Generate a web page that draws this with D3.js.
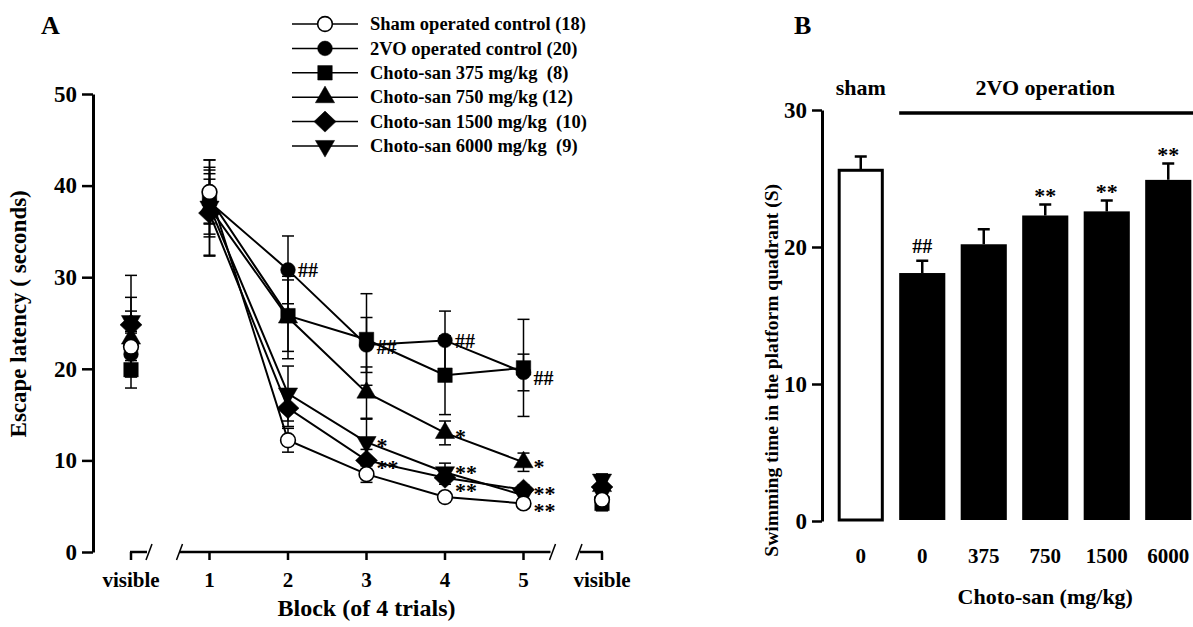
<!DOCTYPE html>
<html>
<head>
<meta charset="utf-8">
<script src="https://cdn.jsdelivr.net/npm/d3@7"></script>
<style>
  body { margin: 0; background: #fff; }
  svg { display: block; }
  text { font-family: "Liberation Serif", "Times New Roman", serif; font-weight: bold; fill: #000; }
</style>
</head>
<body>
<svg width="1193" height="627"></svg>
<script>
// ---- Panel A data ----
const blockKeys = ['visL', '1', '2', '3', '4', '5', 'visR'];
const blockLabels = ['visible', '1', '2', '3', '4', '5', 'visible'];
const yTicksA = [0, 10, 20, 30, 40, 50];

const seriesNames = [
    'Sham operated control (18)',
    '2VO operated control (20)',
    'Choto-san 375 mg/kg  (8)',
    'Choto-san 750 mg/kg (12)',
    'Choto-san 1500 mg/kg  (10)',
    'Choto-san 6000 mg/kg  (9)'
];
const seriesSymbols = ['circleOpen', 'circle', 'square', 'triangle', 'diamond', 'triangleDown'];

const shamMeans = [22.4, 39.3, 12.2, 8.5, 6.0, 5.3, 5.7];
const shamErr   = [1.5, 3.5, 1.3, 0.9, 0.5, 0.5, 0.6];
const vo2Means  = [21.6, 38.2, 30.8, 22.6, 23.1, 19.6, 6.8];
const vo2Err    = [2.5, 3.8, 3.7, 3.0, 3.2, 2.0, 1.0];
const cs375Means = [19.9, 38.6, 25.8, 23.2, 19.3, 20.1, 5.3];
const cs375Err   = [2.0, 2.7, 3.9, 5.0, 4.3, 5.3, 0.8];
const cs750Means = [23.3, 37.6, 25.6, 17.4, 13.0, 9.8, 7.2];
const cs750Err   = [3.0, 5.2, 4.5, 2.8, 1.3, 1.0, 1.0];
const cs1500Means = [24.8, 37.0, 15.7, 10.0, 8.1, 6.8, 7.1];
const cs1500Err   = [3.0, 4.7, 2.0, 1.2, 0.7, 0.5, 1.4];
const cs6000Means = [25.2, 37.7, 17.3, 12.0, 8.7, 6.2, 7.9];
const cs6000Err   = [5.0, 3.0, 3.0, 2.5, 1.0, 0.6, 0.6];

// significance marks: block, value where the mark sits, label
const sigKeysA   = ['2', '3', '4', '5', '3', '3', '4', '4', '4', '5', '5', '5'];
const sigValuesA = [30.8, 22.4, 23.1, 19.0, 12.3, 9.8, 13.2, 9.3, 7.3, 10.0, 7.0, 5.2];
const sigLabelsA = ['##', '##', '##', '##', '*', '**', '*', '**', '**', '*', '**', '**'];

// ---- Panel B data ----
const groupLabels = ['0', '0', '375', '750', '1500', '6000'];
const swimMeans = [25.6, 18.1, 20.2, 22.3, 22.6, 24.9];
const swimErr   = [1.0, 0.9, 1.1, 0.8, 0.8, 1.2];
const swimSig   = ['', '##', '', '**', '**', '**'];
const yTicksB = [0, 10, 20, 30];

const svg = d3.select('svg');

// ---- symbols ----
const diamondType = {
    draw(ctx, size) {
        const r = Math.sqrt(size / 2);
        ctx.moveTo(0, -r); ctx.lineTo(r * 1.05, 0); ctx.lineTo(0, r); ctx.lineTo(-r * 1.05, 0); ctx.closePath();
    }
};
const symbolType = { circleOpen: d3.symbolCircle, circle: d3.symbolCircle, square: d3.symbolSquare,
    triangle: d3.symbolTriangle, diamond: diamondType, triangleDown: d3.symbolTriangle };
const symbolSize = { circleOpen: 170, circle: 170, square: 210, triangle: 160, diamond: 220, triangleDown: 160 };

const drawSymbol = (g, s, x, y) => {
    g.append('path')
        .attr('d', d3.symbol().type(symbolType[s]).size(symbolSize[s])())
        .attr('transform', `translate(${x},${y})` + (s === 'triangleDown' ? ' rotate(180)' : ''))
        .attr('fill', s === 'circleOpen' ? '#fff' : '#000')
        .attr('stroke', '#000')
        .attr('stroke-width', s === 'circleOpen' ? 1.6 : 0.5);
};

// ================= Panel A =================
const xA = d3.scalePoint().domain(blockKeys).range([131, 602]);
const yA = d3.scaleLinear().domain([0, 50]).range([552, 94]);

const series = [
    { means: shamMeans, err: shamErr },
    { means: vo2Means, err: vo2Err },
    { means: cs375Means, err: cs375Err },
    { means: cs750Means, err: cs750Err },
    { means: cs1500Means, err: cs1500Err },
    { means: cs6000Means, err: cs6000Err }
].map((d, i) => ({ ...d, symbol: seriesSymbols[i], name: seriesNames[i] }));

const panelA = svg.append('g');

// y axis
const yAxisA = panelA.append('g')
    .attr('transform', `translate(${xA.range()[0] - 38},0)`)
    .call(d3.axisLeft(yA).tickValues(yTicksA).tickSize(11).tickSizeOuter(0).tickPadding(5));
yAxisA.select('.domain').attr('stroke-width', 3);
yAxisA.selectAll('.tick line').attr('stroke-width', 2.5);
yAxisA.selectAll('.tick text').style('font-size', '23px').style('font-family', '"Liberation Serif", serif').style('font-weight', 'bold');

// broken x axis
const y0 = yA(0);
const axisLine = (x1, x2) => panelA.append('line').attr('x1', x1).attr('x2', x2).attr('y1', y0).attr('y2', y0)
    .attr('stroke', '#000').attr('stroke-width', 2.5);
const slash = x => panelA.append('line').attr('x1', x - 3).attr('x2', x + 3).attr('y1', y0 + 8).attr('y2', y0 - 8)
    .attr('stroke', '#000').attr('stroke-width', 1.5);
axisLine(xA('visL') - 1, xA('visL') + 16); slash(xA('visL') + 18);
slash(xA('1') - 30); axisLine(xA('1') - 30, xA('5') + 27); slash(xA('5') + 29);
slash(xA('visR') - 23); axisLine(xA('visR') - 22, xA('visR') + 1);
blockKeys.forEach(k => {
    panelA.append('line').attr('x1', xA(k)).attr('x2', xA(k)).attr('y1', y0).attr('y2', y0 + 8)
        .attr('stroke', '#000').attr('stroke-width', 2.5);
});
panelA.selectAll('.xlab').data(blockKeys).enter().append('text')
    .attr('x', d => xA(d)).attr('y', y0 + 35)
    .attr('text-anchor', 'middle').style('font-size', '21px')
    .text((d, i) => blockLabels[i]);

panelA.append('text')
    .attr('x', (xA('1') + xA('5')) / 2).attr('y', 616)
    .attr('text-anchor', 'middle').style('font-size', '24px')
    .text('Block (of 4 trials)');

panelA.append('text')
    .attr('transform', `translate(26, ${yA(26)}) rotate(-90)`)
    .attr('text-anchor', 'middle').style('font-size', '23px')
    .text('Escape latency ( seconds)');

panelA.append('text').attr('x', 41).attr('y', 34).style('font-size', '26px').text('A');

// error bars
series.forEach(s => {
    blockKeys.forEach((k, i) => {
        const x = xA(k), m = s.means[i], e = s.err[i];
        panelA.append('line').attr('x1', x).attr('x2', x).attr('y1', yA(m - e)).attr('y2', yA(m + e))
            .attr('stroke', '#000').attr('stroke-width', 1.5);
        [m - e, m + e].forEach(v => panelA.append('line')
            .attr('x1', x - 6).attr('x2', x + 6).attr('y1', yA(v)).attr('y2', yA(v))
            .attr('stroke', '#000').attr('stroke-width', 1.5));
    });
});

// connecting lines (blocks 1-5 only)
const lineA = d3.line().x(d => xA(d.k)).y(d => yA(d.v));
series.forEach(s => {
    const pts = blockKeys.map((k, i) => ({ k, v: s.means[i] })).filter(d => d.k !== 'visL' && d.k !== 'visR');
    panelA.append('path').attr('d', lineA(pts)).attr('fill', 'none').attr('stroke', '#000').attr('stroke-width', 2);
});

// markers: filled first, open sham last
[1, 2, 3, 4, 5, 0].forEach(si => {
    const s = series[si];
    blockKeys.forEach((k, i) => drawSymbol(panelA, s.symbol, xA(k), yA(s.means[i])));
});

// significance marks
sigKeysA.forEach((k, i) => {
    const lab = sigLabelsA[i];
    panelA.append('text')
        .attr('x', xA(k) + 10).attr('y', yA(sigValuesA[i]))
        .attr('dy', lab === '##' ? '0.36em' : '0.6em')
        .style('font-size', lab === '##' ? '20px' : '22px')
        .text(lab);
});

// legend
const legend = panelA.append('g');
series.forEach((s, i) => {
    const ly = 24 + i * 24.4;
    legend.append('line').attr('x1', 292).attr('x2', 358).attr('y1', ly).attr('y2', ly)
        .attr('stroke', '#000').attr('stroke-width', 1.5);
    drawSymbol(legend, s.symbol, 325, ly);
    legend.append('text').attr('x', 370).attr('y', ly).attr('dy', '0.34em')
        .style('font-size', '18.5px').style('white-space', 'pre').text(s.name);
});

// ================= Panel B =================
const xB = d3.scaleBand().domain(d3.range(groupLabels.length)).range([830, 1199])
    .paddingInner(0.25).paddingOuter(0.125);
const yB = d3.scaleLinear().domain([0, 30]).range([521, 110]);

const panelB = svg.append('g');

const yAxisB = panelB.append('g')
    .attr('transform', 'translate(822,0)')
    .call(d3.axisLeft(yB).tickValues(yTicksB).tickSize(10).tickSizeOuter(0).tickPadding(5));
yAxisB.select('.domain').attr('stroke-width', 3);
yAxisB.selectAll('.tick line').attr('stroke-width', 2.5);
yAxisB.selectAll('.tick text').style('font-size', '23px').style('font-family', '"Liberation Serif", serif').style('font-weight', 'bold');

// error bars (upper only)
panelB.selectAll('.eb').data(swimMeans).enter().append('path')
    .attr('d', (d, i) => {
        const cx = xB(i) + xB.bandwidth() / 2;
        return `M${cx},${yB(d)}V${yB(d + swimErr[i])}M${cx - 6},${yB(d + swimErr[i])}H${cx + 6}`;
    })
    .attr('stroke', '#000').attr('stroke-width', 2.5).attr('fill', 'none');

panelB.selectAll('.bar').data(swimMeans).enter().append('rect')
    .attr('x', (d, i) => xB(i) + (i === 0 ? 1.5 : 0))
    .attr('y', d => yB(d))
    .attr('width', (d, i) => xB.bandwidth() - (i === 0 ? 3 : 0))
    .attr('height', d => yB(0) - yB(d) - 1)
    .attr('fill', (d, i) => i === 0 ? '#fff' : '#000')
    .attr('stroke', '#000').attr('stroke-width', (d, i) => i === 0 ? 3 : 0);

panelB.selectAll('.sig').data(swimSig).enter().append('text')
    .attr('x', (d, i) => xB(i) + xB.bandwidth() / 2)
    .attr('y', (d, i) => yB(swimMeans[i] + swimErr[i]) - 6)
    .attr('text-anchor', 'middle')
    .style('font-size', d => d === '##' ? '20px' : '22px')
    .attr('dy', d => d === '##' ? '-0.1em' : '0.2em')
    .text(d => d);

panelB.selectAll('.xlab').data(groupLabels).enter().append('text')
    .attr('x', (d, i) => xB(i) + xB.bandwidth() / 2).attr('y', 563)
    .attr('text-anchor', 'middle').style('font-size', '21px')
    .text(d => d);

panelB.append('text')
    .attr('x', (xB(1) + xB(5) + xB.bandwidth()) / 2).attr('y', 604)
    .attr('text-anchor', 'middle').style('font-size', '22px')
    .text('Choto-san (mg/kg)');

panelB.append('text')
    .attr('transform', `translate(778, ${yB(11)}) rotate(-90)`)
    .attr('text-anchor', 'middle').style('font-size', '19.5px')
    .text('Swimming time in the platform quadrant (S)');

panelB.append('text').attr('x', 794).attr('y', 34).style('font-size', '26px').text('B');

panelB.append('text')
    .attr('x', xB(0) + xB.bandwidth() / 2).attr('y', 95)
    .attr('text-anchor', 'middle').style('font-size', '22px').text('sham');
panelB.append('text')
    .attr('x', (xB(1) + xB(5) + xB.bandwidth()) / 2).attr('y', 95)
    .attr('text-anchor', 'middle').style('font-size', '22px').text('2VO operation');
panelB.append('line')
    .attr('x1', xB(1)).attr('x2', 1193).attr('y1', 113).attr('y2', 113)
    .attr('stroke', '#000').attr('stroke-width', 3.5);
</script>
</body>
</html>
